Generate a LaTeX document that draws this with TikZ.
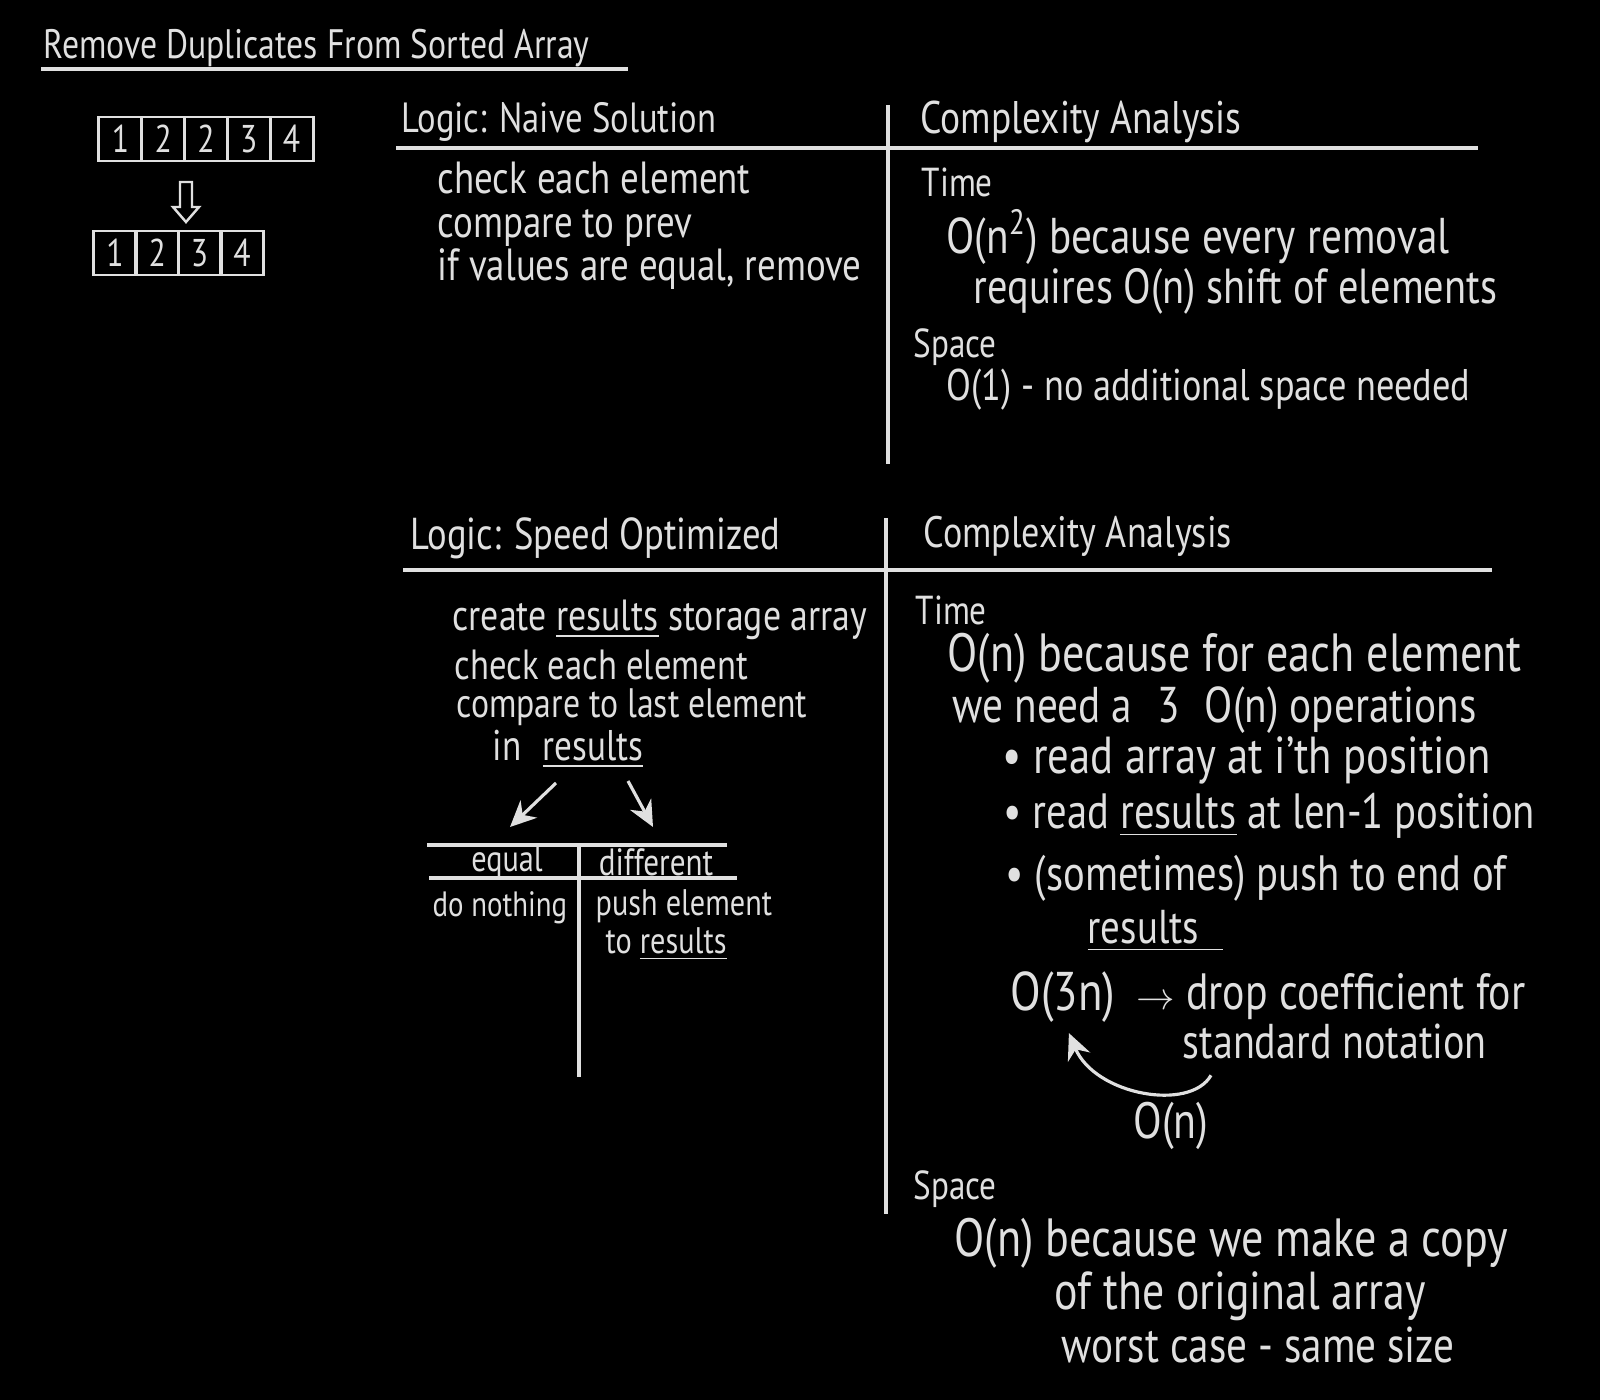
\documentclass[tikz,border=0pt]{standalone}
\usepackage{fontspec}
\setmainfont{PT Sans}[FakeStretch=0.82]
\usetikzlibrary{arrows.meta,calc,positioning}
\definecolor{chalk}{gray}{0.88}
\newcommand\fsz[1]{\fontsize{#1}{#1}\selectfont}

\begin{document}
\begin{tikzpicture}[x=0.01cm, y=-0.01cm, >={Stealth[length=2.6mm,width=2.4mm]},
  txt/.style={text=chalk, inner sep=0pt, anchor=west, font=\fsz{#1}},
  txt/.default=11,
  lines/.style={draw=chalk, line width=0.9pt},
  arr/.style={draw=chalk, fill=chalk, line width=0.9pt, ->},
  cell/.style={draw=chalk, line width=0.8pt, text=chalk, inner sep=0pt,
    minimum width=4.3mm, minimum height=4.4mm, font=\fsz{11}}]

  % board
  \fill[black] (0,0) rectangle (1600,1400);
  \useasboundingbox (0,0) rectangle (1600,1400);

  %-------------------------
  % Title and example arrays
  %-------------------------
  \node[txt=11.7] (title) at (43,48) {Remove Duplicates From Sorted Array};
  \draw[lines] (41,69) -- (628,69);

  \foreach \v [count=\i] in {1,2,2,3,4}
    \node[cell] (a\i) at ({120.4+42.8*(\i-1)},139) {\v};
  \foreach \v [count=\i] in {1,2,3,4}
    \node[cell] (b\i) at ({115+42.3*(\i-1)},253) {\v};

  % hollow arrow
  \draw[lines, line width=0.7pt] (180,182) -- (192,182) -- (192,207) -- (199,207)
    -- (186,222) -- (173,207) -- (180,207) -- cycle;

  %-------------------------
  % Naive solution
  %-------------------------
  \draw[lines] (396,148) -- (1478,148);
  \draw[lines] (888,105) -- (888,464);

  \node[txt=12] (naive) at (401,122) {Logic: Naive Solution};
  \node[txt=13] (cplxA) at (920,122) {Complexity Analysis};

  \node[txt, align=left, font=\fontsize{12.8}{12.3}\selectfont] (steps) at (437,226)
    {check each element\\ compare to prev\\ if values are equal, remove};

  \node[txt=11.5] (timeA) at (921,182) {Time};
  \node[txt=14.3] (tA) at (946,237) {O(n\textsuperscript{2}) because every removal};
  \node[txt=14] (tB) at (973,291) {requires O(n) shift of elements};
  \node[txt=11.5] (spaceA) at (913,347) {Space};
  \node[txt=12.6] (sA) at (946,390) {O(1) - no additional space needed};

  %-------------------------
  % Speed optimized
  %-------------------------
  \draw[lines] (403,570) -- (1492,570);
  \draw[lines] (886,518) -- (886,1214);

  \node[txt=12.7] (speed) at (410,538) {Logic: Speed Optimized};
  \node[txt=12.5] (cplxB) at (923,536) {Complexity Analysis};

  \node[txt=12.4] (pA) at (452,620) {create \underline{results} storage array};
  \node[txt=12] (pB) at (454,665) {check each element};
  \node[txt=11.7] (pC) at (456,707) {compare to last element};
  \node[txt=12.2] (pD) at (492,749) {in\enspace\underline{results}};

  \coordinate (fromEq) at (556,783);
  \coordinate (toEq) at (510,827);
  \coordinate (fromDiff) at (628,781);
  \coordinate (toDiff) at (653,827);
  \draw[arr] (fromEq) -- (toEq);
  \draw[arr] (fromDiff) -- (toDiff);

  % equal / different table
  \draw[lines] (427,845) -- (727,845);
  \draw[lines] (429,878) -- (737,878);
  \draw[lines] (579,845) -- (579,1077);
  \node[txt=10.5, anchor=center] (eq) at (507,862) {equal};
  \node[txt=10.8, anchor=center] (diff) at (656,862) {different};
  \node[txt=10] (nothing) at (432,908) {do nothing};
  \node[txt=10.5] (push) at (595,906) {push element};
  \node[txt=10.5] (toRes) at (605,944) {to \underline{results}};

  \node[txt=11.5] (timeB) at (915,610) {Time};
  \node[txt, align=left, font=\fontsize{15.3}{13.1}\selectfont] (lAB) at (947,683)
    {O(n) because for each element\\
     \hspace*{0.05cm}{\fontsize{14.3}{13.1}\selectfont we need a\enspace 3\enspace O(n) operations}};
  \node[txt=14.8] (lC) at (1002,760) {\textbullet\ read array at i'th position};
  \node[txt=14.1] (lD) at (1003,816) {\textbullet\ read \underline{results} at len-1 position};
  \node[txt=14.1] (lE) at (1005,878) {\textbullet\ (sometimes) push to end of};
  \node[txt=13.5] (lF) at (1087,931) {\underline{results\enspace}};

  \node[txt=15.5] (o3n) at (1010,997) {O(3n)};
  \node[txt=14.5, right=0.2cm of o3n] (drop) {{\fsz{11}$\rightarrow$} drop coefficient for};
  \node[txt=13.9] (std) at (1182,1041) {standard notation};
  \node[txt=14.5, anchor=center] (on) at (1171,1126) {O(n)};
  \draw[lines, ->] ($(std.south west)+(29,16)$) .. controls (1190,1112) and (1095,1095)
    .. ($(o3n.south)+(6,10)$);

  \node[txt=11.5] (spaceB) at (913,1189) {Space};
  \node[txt=15.3] (mA) at (954,1243) {O(n) because we make a copy};
  \node[txt=15.2] (mB) at (1054,1296) {of the original array};
  \node[txt=14.3] (mC) at (1061,1345) {worst case - same size};

\end{tikzpicture}
\end{document}
